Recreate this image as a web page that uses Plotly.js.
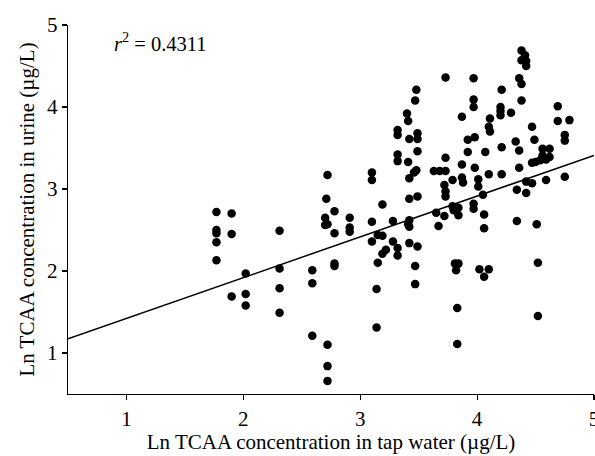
<!DOCTYPE html>
<html>
<head>
<meta charset="utf-8">
<script src="https://cdn.plot.ly/plotly-3.0.1.min.js"></script>
<style>html,body{margin:0;padding:0;background:#fff;}#chart{width:595px;height:456px;}</style>
</head>
<body>
<div id="chart"></div>
<script>
// Ln TCAA in tap water (x) vs Ln TCAA in urine (y)
var tapWater = [
  1.77,1.77,1.77,1.77,1.77,1.90,1.90,1.90,2.02,2.02,2.02,2.31,2.31,2.31,2.31,2.59,2.59,2.59,
  2.72,2.71,2.70,2.70,2.72,2.72,2.72,2.72,2.78,2.78,2.78,2.78,2.91,2.91,2.91,
  3.10,3.10,3.10,3.10,3.15,3.19,3.15,3.14,3.14,3.19,3.22,3.19,3.28,3.28,3.32,3.32,
  3.32,3.32,3.32,3.32,3.40,3.41,3.42,3.49,3.49,3.49,3.41,3.48,3.46,3.42,3.48,3.47,
  3.42,3.49,3.42,3.41,3.42,3.42,3.49,3.47,3.47,
  3.73,3.73,3.63,3.68,3.73,3.79,3.72,3.73,3.73,3.65,3.72,3.67,3.79,3.80,3.84,3.84,
  3.81,3.84,3.82,3.83,3.83,3.87,3.87,3.87,3.88,3.92,3.92,3.98,
  3.97,3.97,3.97,3.98,4.01,4.01,4.05,3.97,3.97,4.06,4.06,4.02,4.10,4.06,4.11,4.10,4.11,4.07,4.10,
  4.21,4.20,4.20,4.20,4.29,4.21,4.21,
  4.38,4.41,4.38,4.42,4.42,4.36,4.38,4.38,4.33,4.36,4.36,4.34,4.42,4.42,4.34,
  4.47,4.49,4.56,4.62,4.56,4.62,4.59,4.54,4.50,4.47,4.47,4.59,4.51,4.52,4.52,
  4.69,4.69,4.79,4.75,4.75,4.75
];
var urine = [
  2.72,2.50,2.46,2.35,2.13,2.70,2.45,1.69,1.97,1.72,1.58,2.49,2.03,1.79,1.49,2.01,1.85,1.21,
  3.17,2.88,2.65,2.56,2.57,1.10,0.84,0.66,2.73,2.46,2.09,2.06,2.65,2.53,2.48,
  3.20,3.11,2.60,2.36,2.44,2.43,2.10,1.78,1.31,2.81,2.26,2.21,2.61,2.36,2.28,2.19,
  3.72,3.66,3.42,3.34,3.92,3.83,3.61,3.68,3.61,3.46,3.33,3.23,3.20,3.13,4.21,4.08,
  2.88,2.91,2.62,2.57,2.54,2.34,2.30,2.06,1.84,
  4.36,3.38,3.22,3.22,3.22,3.11,3.05,2.97,2.91,2.71,2.67,2.55,2.79,2.74,2.77,2.68,
  2.09,2.09,2.01,1.55,1.11,3.88,3.30,3.14,3.08,3.60,3.45,3.63,
  4.35,4.09,4.00,3.26,3.12,3.03,2.93,2.82,2.76,2.69,2.52,2.02,2.02,1.93,3.86,3.76,3.70,3.45,3.18,
  4.21,4.00,3.95,3.90,3.93,3.51,3.18,
  4.69,4.63,4.57,4.56,4.50,4.35,4.28,4.08,3.58,3.47,3.26,2.99,2.95,3.09,2.61,
  3.76,3.60,3.49,3.49,3.41,3.39,3.36,3.35,3.33,3.32,3.07,3.11,2.57,2.10,1.45,
  4.01,3.83,3.84,3.66,3.59,3.15
];
// fitted regression line
var fitIntercept = 0.925;
var fitSlope = 0.497;
var fitX = [0.5, 5];
var fitY = fitX.map(function(v){ return fitIntercept + fitSlope * v; });
var r2Label = "<i>r</i><sup>2</sup> = 0.4311";
var xTitle = "Ln TCAA concentration in tap water (\u00b5g/L)";
var yTitle = "Ln TCAA concentration in urine (\u00b5g/L)";
var tickVals = [1, 2, 3, 4, 5];

var font = "Liberation Serif, Times New Roman, serif";
var traces = [
  {x: fitX, y: fitY, mode: "lines", line: {color: "#000", width: 1.5}, hoverinfo: "skip", cliponaxis: false},
  {x: tapWater, y: urine, mode: "markers", marker: {color: "#000", size: 8.5, line: {width: 0}}, cliponaxis: false}
];
var axisCommon = {
  range: [0.5, 5], tickvals: tickVals, ticks: "outside", ticklen: 5, tickwidth: 1.2, tickcolor: "#000",
  showline: true, linecolor: "#000", linewidth: 1.3, showgrid: false, zeroline: false,
  ticklabeloverflow: "allow",
  tickfont: {family: font, size: 21, color: "#000"}
};
var layout = {
  width: 595, height: 456,
  margin: {l: 68, r: 1, t: 25, b: 62},
  paper_bgcolor: "#fff", plot_bgcolor: "#fff",
  showlegend: false,
  font: {family: font, color: "#000"},
  xaxis: Object.assign({}, axisCommon, {title: {text: xTitle, font: {family: font, size: 21, color: "#000"}, standoff: 4}}),
  yaxis: Object.assign({}, axisCommon, {title: {text: yTitle, font: {family: font, size: 21, color: "#000"}, standoff: 6}}),
  annotations: [{
    x: 0.88, y: 4.79, xref: "x", yref: "y", xanchor: "left", yanchor: "middle",
    text: r2Label, showarrow: false, font: {family: font, size: 20.5, color: "#000"}
  }]
};
Plotly.newPlot("chart", traces, layout, {staticPlot: true, displayModeBar: false});
</script>
</body>
</html>
